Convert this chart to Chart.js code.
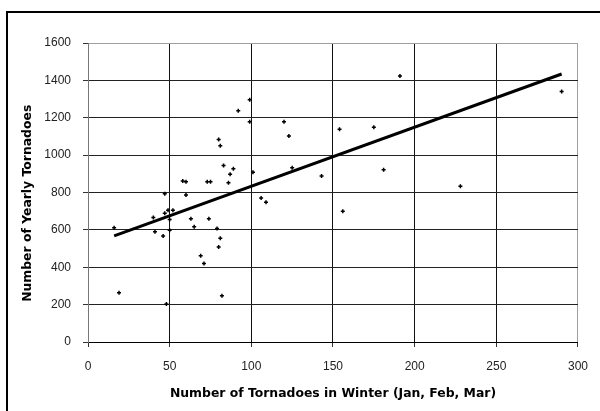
<!DOCTYPE html>
<html>
<head>
<meta charset="utf-8">
<script src="https://cdn.jsdelivr.net/npm/chart.js@4.4.0/dist/chart.umd.min.js"></script>
<style>
  html, body { margin: 0; padding: 0; background: #fff; }
  #frame { position: absolute; left: 6px; top: 11px; width: 700px; height: 500px; border: 2px solid #000; }
  #wrap { position: absolute; left: 0; top: 0; width: 600px; height: 411px; }
</style>
</head>
<body>
<div id="frame"></div>
<div id="wrap"><canvas id="tornadoChart"></canvas></div>
<script>
// Winter (Jan, Feb, Mar) tornado counts vs. yearly totals
const winterCounts = [16, 19, 40, 41, 46, 47, 47, 49, 48, 50, 50, 52, 58, 60, 60, 63, 65, 69, 71, 73,
  75, 74, 79, 80, 81, 81, 80, 82, 83, 86, 87, 89, 92, 99, 99, 101, 106, 109, 120, 123,
  125, 143, 154, 156, 175, 181, 191, 228, 290];
const yearlyCounts = [612, 263, 666, 590, 567, 793, 689, 705, 204, 655, 598, 705, 861, 857, 787, 660, 617, 462, 420, 857,
  857, 660, 607, 1084, 1050, 555, 508, 247, 945, 852, 898, 927, 1237, 1296, 1178, 909, 770, 748, 1178, 1102,
  932, 888, 1138, 700, 1149, 922, 1423, 834, 1340];

// linear trend line end points
const trendX = [16, 290];
const trendY = [568, 1434];

const xTicks = [0, 50, 100, 150, 200, 250, 300];
const yTicks = [0, 200, 400, 600, 800, 1000, 1200, 1400, 1600];

const points = winterCounts.map((x, i) => ({ x: x, y: yearlyCounts[i] }));
const trend = trendX.map((x, i) => ({ x: x, y: trendY[i] }));

const tickFont = { family: "'Liberation Sans', Arial, sans-serif", size: 12 };
const titleFont = { family: "'DejaVu Sans', sans-serif", size: 12.4, weight: 'bold' };

new Chart(document.getElementById('tornadoChart'), {
    type: 'scatter',
    data: {
        datasets: [{
            label: 'Trend',
            data: trend,
            showLine: true,
            borderColor: '#000',
            borderWidth: 3,
            pointRadius: 0,
            order: 0
        }, {
            label: 'Years',
            data: points,
            pointStyle: 'cross',
            pointRadius: 2,
            borderWidth: 1.5,
            borderColor: '#000',
            backgroundColor: '#000',
            order: 1
        }]
    },
    options: {
        responsive: true,
        maintainAspectRatio: false,
        animation: false,
        layout: { padding: { left: 0, top: 43, right: 15, bottom: 0 } },
        plugins: {
            legend: { display: false },
            tooltip: { enabled: false }
        },
        scales: {
            x: {
                type: 'linear',
                min: 0,
                max: 300,
                afterFit: (s) => { s.height = 69; },
                afterBuildTicks: (s) => { s.ticks = xTicks.map(v => ({ value: v })); },
                ticks: { font: tickFont, color: '#222', padding: 12, maxRotation: 0, callback: (v) => String(v) },
                grid: {
                    color: (c) => c.tick && c.tick.value === 300 ? '#a0a0a0' : '#111',
                    tickColor: '#333',
                    tickLength: 5,
                    lineWidth: 1
                },
                border: { color: '#000', width: 1 },
                title: {
                    display: true,
                    text: 'Number of Tornadoes in Winter (Jan, Feb, Mar)',
                    font: titleFont,
                    color: '#000',
                    padding: { top: 0, bottom: 10 }
                }
            },
            y: {
                min: 0,
                max: 1600,
                afterFit: (s) => { s.width = 88; },
                afterBuildTicks: (s) => { s.ticks = yTicks.map(v => ({ value: v })); },
                ticks: { font: tickFont, color: '#222', padding: 12, callback: (v) => String(v) },
                grid: {
                    color: (c) => c.tick && c.tick.value === 1600 ? '#a0a0a0' : '#222',
                    tickColor: '#333',
                    tickLength: 5,
                    lineWidth: 1
                },
                border: { color: '#777', width: 1 },
                title: {
                    display: true,
                    text: 'Number of Yearly Tornadoes     ',
                    font: titleFont,
                    color: '#000',
                    padding: { top: 20, bottom: 0 }
                }
            }
        }
    }
});
</script>
</body>
</html>
